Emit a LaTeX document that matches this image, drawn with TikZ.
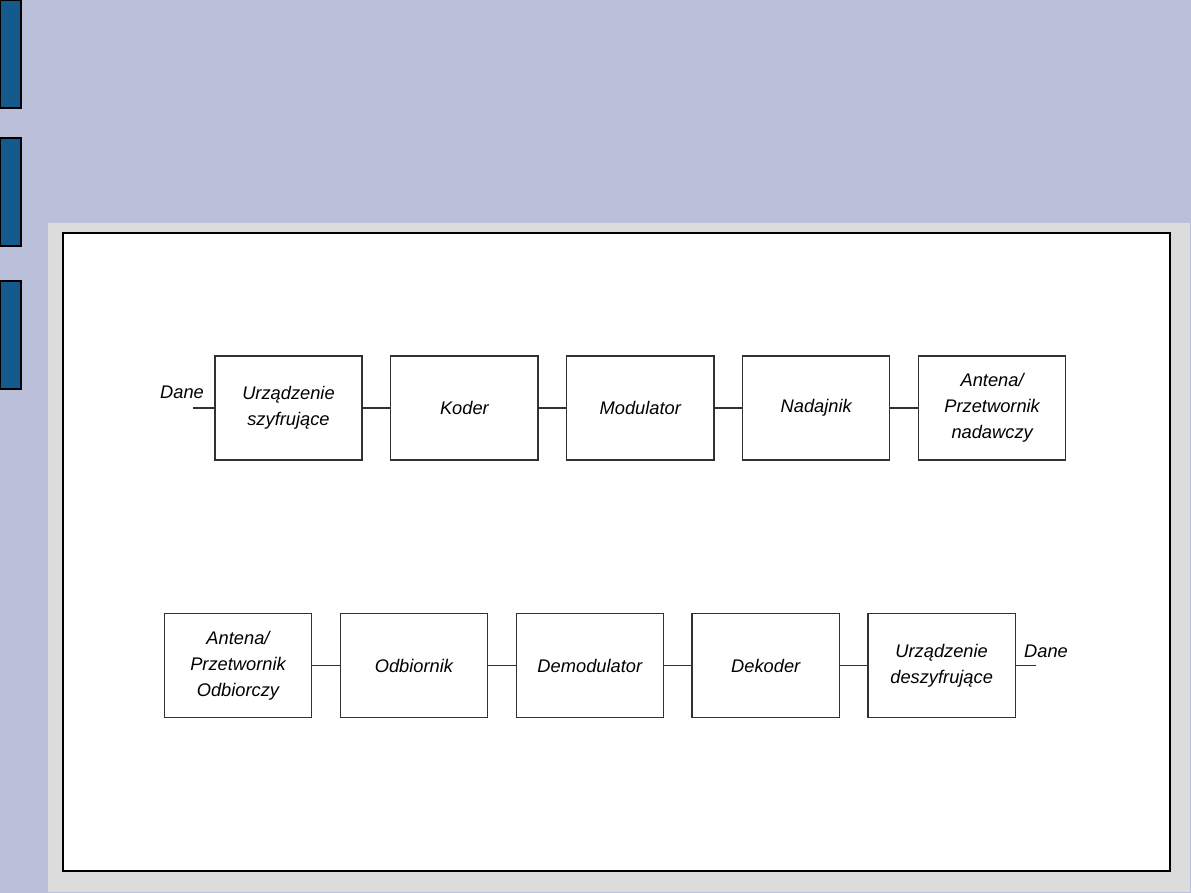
\documentclass[tikz,border=0pt]{standalone}
\usepackage{fontspec}
\setmainfont{Liberation Sans}
\usepackage{xcolor}
\usepackage{tikz}
\usetikzlibrary{positioning}
\definecolor{slidebg}{RGB}{187,192,218}
\definecolor{tabblue}{RGB}{20,90,140}
\definecolor{panelgray}{RGB}{220,220,220}
\definecolor{blockline}{RGB}{50,50,50}
\tikzset{
    block/.style={rectangle, draw=blockline, line width=0.9pt, fill=white,
                  minimum width=3.68cm, minimum height=2.6cm, inner sep=2pt,
                  align=center, font=\fontsize{13}{18.5}\selectfont\itshape},
    link/.style={draw=blockline, line width=0.9pt},
    tab/.style={draw=black, line width=0.8pt, fill=tabblue},
    lbl/.style={font=\fontsize{13}{15}\selectfont\itshape, inner sep=0pt}
}
\begin{document}
\begin{tikzpicture}[x=0.025cm, y=-0.025cm, node distance=0.685cm]
    \useasboundingbox (0,0) rectangle (1191,893);
    % slide background
    \fill[slidebg] (0,0) rectangle (1191,893);
    \draw[tab] (0,0) rectangle (21,108);
    \draw[tab] (0,138) rectangle (21,246);
    \draw[tab] (0,281) rectangle (21,389);
    \fill[panelgray] (48,223) rectangle (1190,892);
    \draw[black, line width=0.9pt, fill=white] (63,233) rectangle (1170,871);

    % Transmitter chain
    \node[block] (szyfr) at (288.5,408) {Urządzenie\\szyfrujące};
    \node[block, right=of szyfr] (koder) {Koder};
    \node[block, right=of koder] (mod) {Modulator};
    \node[block, right=of mod] (nadajnik) {Nadajnik};
    \node[block, right=of nadajnik] (antnad) {Antena/\\Przetwornik\\nadawczy};

    % Receiver chain
    \node[block] (antodb) at (238,665.5) {Antena/\\Przetwornik\\Odbiorczy};
    \node[block, right=of antodb] (odbiornik) {Odbiornik};
    \node[block, right=of odbiornik] (demod) {Demodulator};
    \node[block, right=of demod] (dekoder) {Dekoder};
    \node[block, right=of dekoder] (deszyfr) {Urządzenie\\deszyfrujące};

    % Data in / out
    \coordinate (inA) at (193,408);
    \coordinate (outB) at (1036,665.5);
    \node[lbl] (daneA) at (182,392) {Dane};
    \node[lbl] (daneB) at (1046,651) {Dane};

    % Links
    \draw[link] (inA) -- (szyfr);
    \draw[link] (szyfr) -- (koder);
    \draw[link] (koder) -- (mod);
    \draw[link] (mod) -- (nadajnik);
    \draw[link] (nadajnik) -- (antnad);
    \draw[link] (antodb) -- (odbiornik);
    \draw[link] (odbiornik) -- (demod);
    \draw[link] (demod) -- (dekoder);
    \draw[link] (dekoder) -- (deszyfr);
    \draw[link] (deszyfr) -- (outB);
\end{tikzpicture}
\end{document}
